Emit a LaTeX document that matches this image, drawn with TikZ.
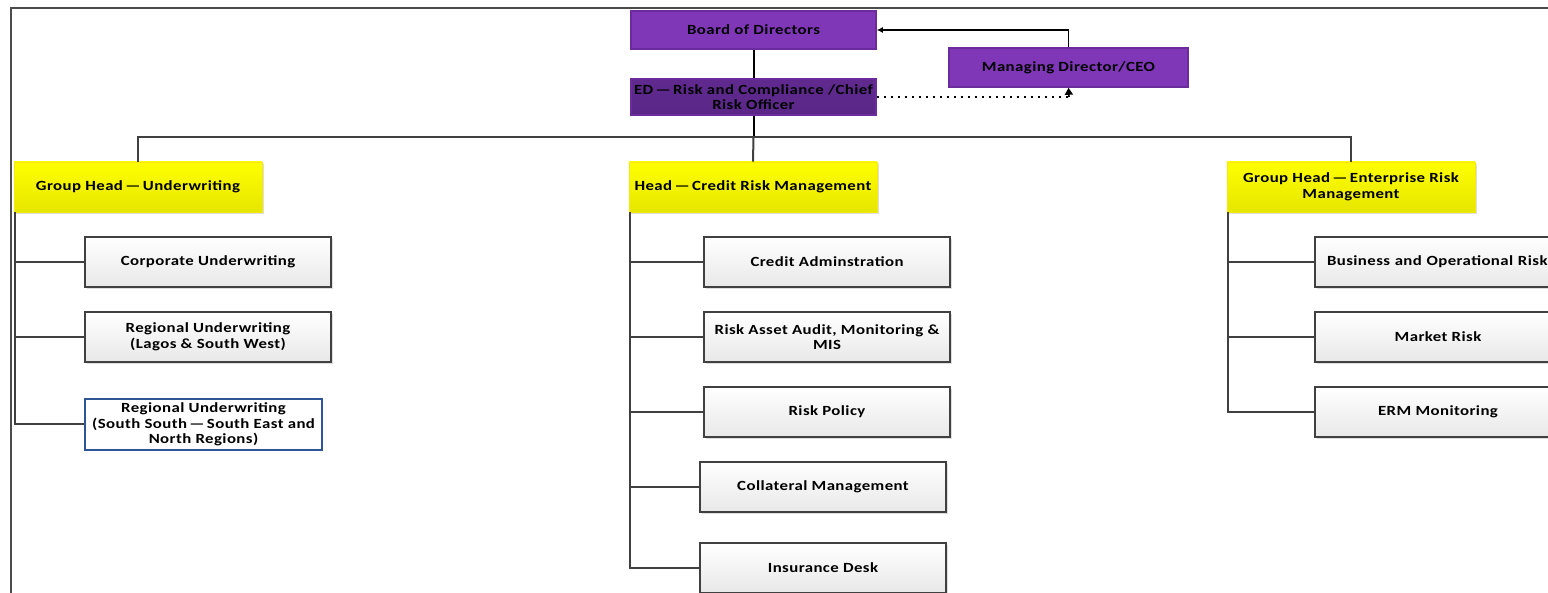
\documentclass[tikz,border=0pt]{standalone}
\usepackage{fontspec}
\setmainfont{Carlito}[FakeStretch=1.2, LetterSpace=3]
\usetikzlibrary{arrows.meta,shadows}
\definecolor{purp}{HTML}{7F37B7}
\definecolor{purpdark}{HTML}{5A2787}
\definecolor{purpedge}{HTML}{6B2B9C}
\definecolor{lineg}{HTML}{404040}
\definecolor{blueedge}{HTML}{2F5597}
\newcommand{\dsh}{\,\textemdash\,}
\tikzset{
  every node/.style={font=\bfseries\fontsize{14}{15.5}\selectfont, align=center, inner sep=1pt},
  purpbox/.style={draw=purpedge, line width=1.6pt, fill=purp, minimum width=245pt, minimum height=38pt},
  edbox/.style={draw=purpedge, line width=1.6pt, top color=purpdark!85!purp, bottom color=purpdark, minimum width=245pt, minimum height=36pt},
  headbox/.style={top color=yellow, bottom color=yellow!90!black, draw=yellow!95!black, line width=0.8pt, minimum width=248pt, minimum height=50pt, drop shadow={shadow xshift=2pt, shadow yshift=-2pt, fill=black!25}},
  unitbox/.style={draw=lineg, line width=1.8pt, top color=white, bottom color=black!9, minimum width=246pt, minimum height=50pt, drop shadow={shadow xshift=2pt, shadow yshift=-2pt, fill=black!25}},
  bluebox/.style={draw=blueedge, line width=1.6pt, fill=white, minimum width=237pt, minimum height=51pt},
  conn/.style={draw=lineg, line width=2pt},
  link/.style={draw=black, line width=2pt},
}
\begin{document}
\begin{tikzpicture}[x=1pt,y=-1pt]
\clip (0,0) rectangle (1548,593);
\fill[white] (0,0) rectangle (1548,593);
% frame
\draw[black!70, line width=1.5pt] (11,593) -- (11,8) -- (1548,8);

\node[purpbox] (bod) at (753.5,30) {Board of Directors};
\node[purpbox, minimum width=239pt, minimum height=39pt] (md) at (1068.5,67.5) {Managing Director/CEO};
\node[edbox] (ed) at (753.5,97) {ED\dsh Risk and Compliance /Chief\\Risk Officer};

\draw[link] (bod.south) -- (ed.north);
\draw[link, line width=1.6pt, -{Latex[length=6pt,width=6pt]}] (md.north) |- (bod.east);
\draw[link, dash pattern=on 2pt off 5pt, line width=1.8pt] (ed.east) -- (1069,97) coordinate (dt);
\draw[link, line width=1.6pt, -{Triangle[length=7pt,width=8pt]}] (dt) -- (md.south);

% heads
\node[headbox] (gh1) at (138,187) {Group Head\dsh Underwriting};
\node[headbox] (gh2) at (753,187) {Head\dsh Credit Risk Management};
\node[headbox] (gh3) at (1351,187) {Group Head\dsh Enterprise Risk\\Management};

\draw[link] (ed.south) -- ++(0,21) coordinate (bus);
\draw[conn] (gh1.north) |- (bus) -| (gh3.north);
\draw[conn] (bus) -- (gh2.north);

% left column
\node[unitbox] (u1) at (208,262) {Corporate Underwriting};
\node[unitbox] (u2) at (208,337) {Regional Underwriting\\(Lagos \& South West)};
\node[bluebox] (u3) at (203.5,424.5) {Regional Underwriting\\(South South\dsh South East and\\North Regions)};
\coordinate (lt) at ([xshift=1pt]gh1.south west);
\draw[conn] (lt) |- (u1.west);
\draw[conn] (lt) |- (u2.west);
\draw[conn] (lt) |- (u3.west);

% centre column
\node[unitbox] (c1) at (827,262) {Credit Adminstration};
\node[unitbox] (c2) at (827,337) {Risk Asset Audit, Monitoring \&\\MIS};
\node[unitbox] (c3) at (827,412) {Risk Policy};
\node[unitbox] (c4) at (823,487) {Collateral Management};
\node[unitbox] (c5) at (823,568) {Insurance Desk};
\coordinate (ct) at ([xshift=1pt]gh2.south west);
\foreach \b in {c1,c2,c3,c4,c5} \draw[conn] (ct) |- (\b.west);

% right column
\node[unitbox, text width=236pt, align=left] (r1) at (1438,262) {\hspace*{7pt}Business and Operational Risk};
\node[unitbox] (r2) at (1438,337) {Market Risk};
\node[unitbox] (r3) at (1438,412) {ERM Monitoring};
\coordinate (rt) at ([xshift=1pt]gh3.south west);
\foreach \b in {r1,r2,r3} \draw[conn] (rt) |- (\b.west);
\end{tikzpicture}
\end{document}
